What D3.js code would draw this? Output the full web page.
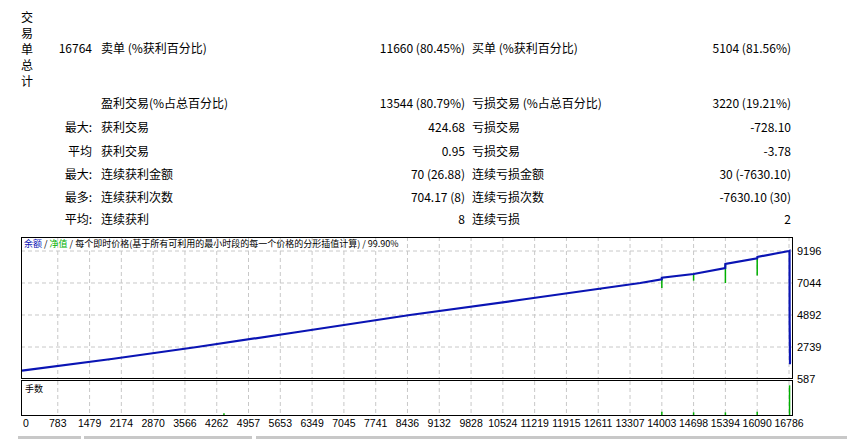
<!DOCTYPE html>
<html><head><meta charset="utf-8">
<script src="https://cdn.jsdelivr.net/npm/d3@7"></script>
<style>body{margin:0;background:#fff}svg{display:block;font-family:"Noto Sans CJK SC","DejaVu Sans",sans-serif}</style>
</head><body><svg id="c" width="848" height="439"></svg>
<script>
// summary table rows: [y, label, col1 text, col1 value, col2 text, col2 value]
const tableRows = [
  [49, "16764", "卖单 (%获利百分比)", "11660 (80.45%)", "买单 (%获利百分比)", "5104 (81.56%)"],
  [104, "", "盈利交易(%占总百分比)", "13544 (80.79%)", "亏损交易 (%占总百分比)", "3220 (19.21%)"],
  [128, "最大:", "获利交易", "424.68", "亏损交易", "-728.10"],
  [152, "平均", "获利交易", "0.95", "亏损交易", "-3.78"],
  [175, "最大:", "连续获利金额", "70 (26.88)", "连续亏损金额", "30 (-7630.10)"],
  [198, "最多:", "连续获利次数", "704.17 (8)", "连续亏损次数", "-7630.10 (30)"],
  [220, "平均:", "连续获利", "8", "连续亏损", "2"]
];
const sideLabel = ["交", "易", "单", "总", "计"];

const xTicks = [0,783,1479,2174,2870,3566,4262,4957,5653,6349,7045,7741,8436,9132,9828,10524,11219,11915,12611,13307,14003,14698,15394,16090,16786];
const yTicks = [587,2739,4892,7044,9196];

// balance curve (trade number, balance)
const balTrades = [0,2000,3830,6000,8490,11000,13530,14000,14003,14698,15390,15394,16090,16095,16786,16798,16800,16808,16830];
const balValues = [1150,1950,2739,3730,4892,5950,7044,7290,7400,7650,8050,8320,8700,8800,9196,9210,4420,1660,1660];
// equity drawdown spikes (trade number, depth below balance)
const ddTrades = [1900,2900,7040,7600,12660,14003,14698,15394,16090];
const ddDepth = [60,60,60,60,90,700,450,1280,1150];
// lot volume spikes in lower panel (trade, relative height 0..1)
const volTrades = [4420,14003,14698,15394,16090,16798];
const volValues = [0.05,0.1,0.08,0.08,0.1,0.9];

const svg = d3.select("#c");

sideLabel.forEach((s, i) => svg.append("text").attr("x", 27).attr("y", 22 + i * 16).attr("font-size", 12).attr("text-anchor", "middle").text(s));
tableRows.forEach(r => {
  const g = svg.append("g").attr("font-size", 12).attr("fill", "#000");
  g.append("text").attr("x", 92).attr("y", r[0] + 4).attr("text-anchor", "end").text(r[1]);
  g.append("text").attr("x", 101).attr("y", r[0] + 4).text(r[2]);
  g.append("text").attr("x", 465).attr("y", r[0] + 4).attr("text-anchor", "end").text(r[3]);
  g.append("text").attr("x", 472).attr("y", r[0] + 4).text(r[4]);
  g.append("text").attr("x", 791).attr("y", r[0] + 4).attr("text-anchor", "end").text(r[5]);
});

const x = d3.scaleLinear().domain([0, 16786]).range([22, 789]);
const y = d3.scaleLinear().domain([587, 9196]).range([379, 251]);
const yv = d3.scaleLinear().domain([0, 1]).range([415, 382]);
const L = 21, R = 792;
const balAt = d3.scaleLinear().domain(balTrades.slice(0, 14)).range(balValues.slice(0, 14));

const grid = svg.append("g").attr("stroke", "#c8c8c8").attr("stroke-dasharray", "4,3");
xTicks.slice(1).forEach(t => {
  grid.append("line").attr("x1", x(t)).attr("x2", x(t)).attr("y1", 237).attr("y2", 379);
  grid.append("line").attr("x1", x(t)).attr("x2", x(t)).attr("y1", 381).attr("y2", 415);
});
yTicks.slice(1).forEach(t => grid.append("line").attr("x1", L).attr("x2", R).attr("y1", y(t)).attr("y2", y(t)));

// drawdown spikes
svg.append("g").attr("stroke", "#00b000").attr("stroke-width", 1.5).selectAll("line")
  .data(ddTrades.map((t, i) => [t, ddDepth[i]])).join("line")
  .attr("x1", d => x(d[0])).attr("x2", d => x(d[0]))
  .attr("y1", d => y(balAt(d[0]))).attr("y2", d => y(balAt(d[0]) - d[1]));

const line = d3.line().x(d => x(d[0])).y(d => y(d[1]));
svg.append("path").datum(balTrades.map((t, i) => [t, balValues[i]]))
  .attr("d", line).attr("fill", "none").attr("stroke", "#0a14b4").attr("stroke-width", 2.2);

svg.append("g").attr("stroke", "#00b000").attr("stroke-width", 1.5).selectAll("line")
  .data(volTrades.map((t, i) => [t, volValues[i]])).join("line")
  .attr("x1", d => x(d[0])).attr("x2", d => x(d[0])).attr("y1", 415).attr("y2", d => yv(d[1]));

// frames
svg.append("rect").attr("x", L + 0.5).attr("y", 237.5).attr("width", R - L).attr("height", 141).attr("fill", "none").attr("stroke", "#000");
svg.append("rect").attr("x", L + 0.5).attr("y", 380.5).attr("width", R - L).attr("height", 35).attr("fill", "none").attr("stroke", "#000");

const axisFont = '"Liberation Sans", Arial, sans-serif';
svg.append("g").attr("font-size", 11).attr("font-family", axisFont).selectAll("text")
  .data(yTicks).join("text").attr("x", R + 5).attr("y", d => y(d) + 4).text(d => d);
svg.append("g").attr("font-size", 10.5).attr("font-family", axisFont).selectAll("text")
  .data(xTicks).join("text").attr("x", d => d === 0 ? 23 : x(d)).attr("y", 427)
  .attr("text-anchor", d => d === 0 ? "start" : "middle").text(d => d);

const leg = svg.append("text").attr("x", 24).attr("y", 247).attr("font-size", 9);
leg.append("tspan").attr("fill", "#0a14b4").text("余额");
leg.append("tspan").text(" / ");
leg.append("tspan").attr("fill", "#00b000").text("净值");
leg.append("tspan").text(" / 每个即时价格(基于所有可利用的最小时段的每一个价格的分形插值计算) / 99.90%");
svg.append("text").attr("x", 25).attr("y", 392).attr("font-size", 9).text("手数");

svg.append("g").attr("fill", "#c8c8c8").selectAll("rect").data([[18, 82], [84, 253], [256, 848]]).join("rect")
  .attr("x", d => d[0]).attr("width", d => d[1] - d[0] - 1).attr("y", 436).attr("height", 3);
</script></body></html>
